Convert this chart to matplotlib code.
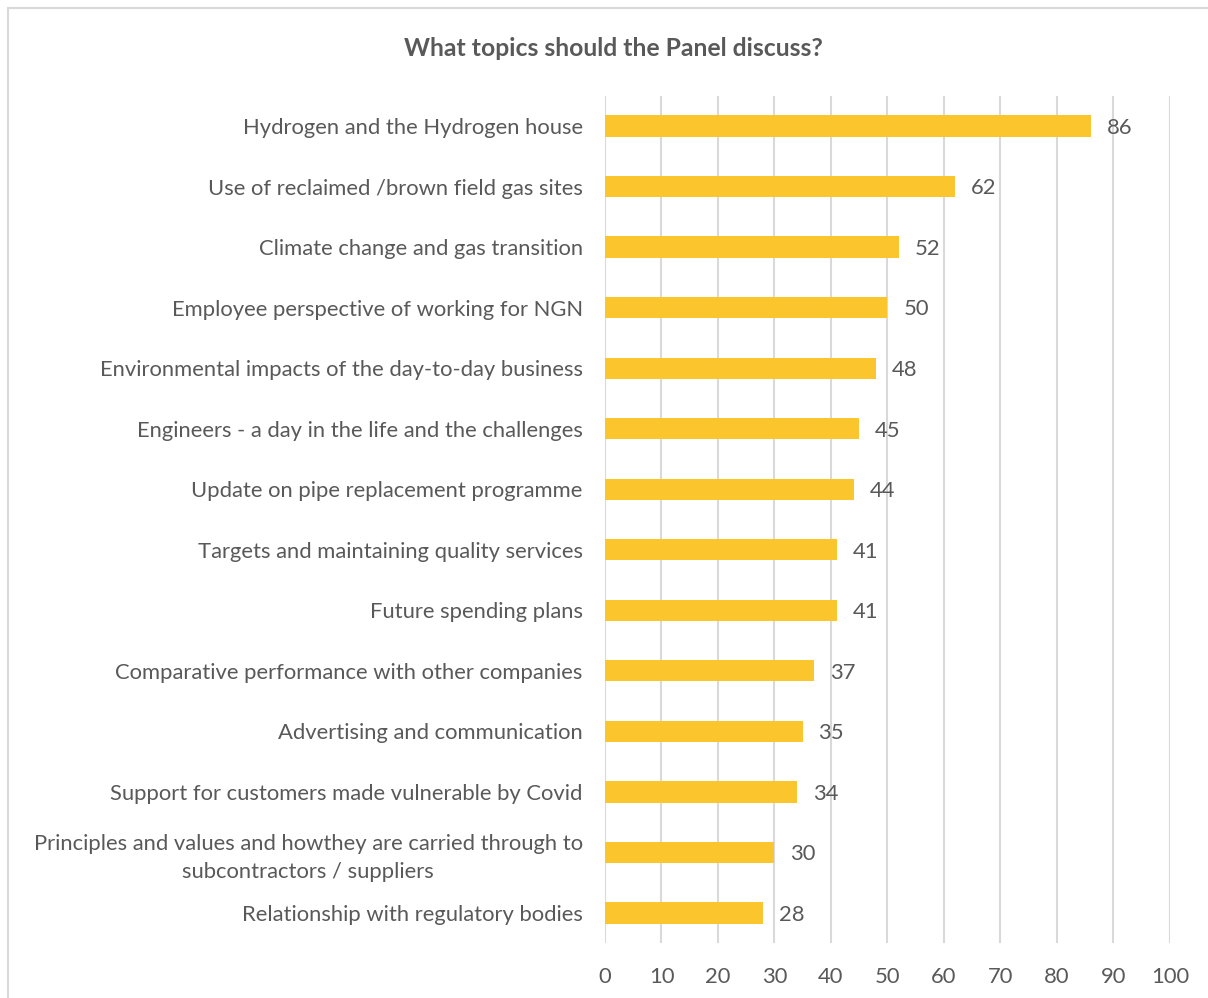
import matplotlib
matplotlib.use("Agg")
import matplotlib.pyplot as plt
from matplotlib.patches import Rectangle

plt.rcParams['font.family'] = ['Lato', 'DejaVu Sans']

# data
topics = [
    "Hydrogen and the Hydrogen house",
    "Use of reclaimed /brown field gas sites",
    "Climate change and gas transition",
    "Employee perspective of working for NGN",
    "Environmental impacts of the day-to-day business",
    "Engineers - a day in the life and the challenges",
    "Update on pipe replacement programme",
    "Targets and maintaining quality services",
    "Future spending plans",
    "Comparative performance with other companies",
    "Advertising and communication",
    "Support for customers made vulnerable by Covid",
    "Principles and values and howthey are carried through to\nsubcontractors / suppliers",
    "Relationship with regulatory bodies",
]
counts = [86, 62, 52, 50, 48, 45, 44, 41, 41, 37, 35, 34, 30, 28]
x_ticks = [0, 10, 20, 30, 40, 50, 60, 70, 80, 90, 100]

text_col = '#595959'
bar_col = '#FBC52D'
grid_col = '#D9D9D9'
fs = 15.8

fig = plt.figure(figsize=(12.08, 9.98), dpi=100)
ax = fig.add_axes([0.5008, 0.0548, 0.4677, 0.8493])

ypos = list(range(len(topics)))
ax.barh(ypos, counts, height=0.35, color=bar_col, zorder=3)
for y, v in zip(ypos, counts):
    ax.text(v + 2.8, y + 0.03, str(v), va='center', ha='left', fontsize=fs, color=text_col, zorder=4)

ax.set_xlim(0, 100)
ax.set_ylim(len(topics) - 0.5, -0.5)
ax.set_xticks(x_ticks)
ax.set_yticks(ypos)
ax.set_yticklabels(topics, fontsize=fs, color=text_col, ha='right',
                   multialignment='center', linespacing=1.5)
ax.tick_params(axis='y', length=0, pad=16)
ax.tick_params(axis='x', length=0, pad=17, labelsize=fs, labelcolor=text_col)
ax.grid(axis='x', color=grid_col, linewidth=1.5, zorder=0)
for s in ax.spines.values():
    s.set_visible(False)

fig.text(0.5075, 0.9519, "What topics should the Panel discuss?", ha='center', va='center',
         fontsize=17.8, fontweight='bold', color=text_col)

# chart border
fig.patches.append(Rectangle((8 / 1208, -0.05), 1.2, 0.05 + 990 / 998, transform=fig.transFigure,
                             fill=False, edgecolor=grid_col, linewidth=1.5))

fig.savefig("out.png", dpi=100)
